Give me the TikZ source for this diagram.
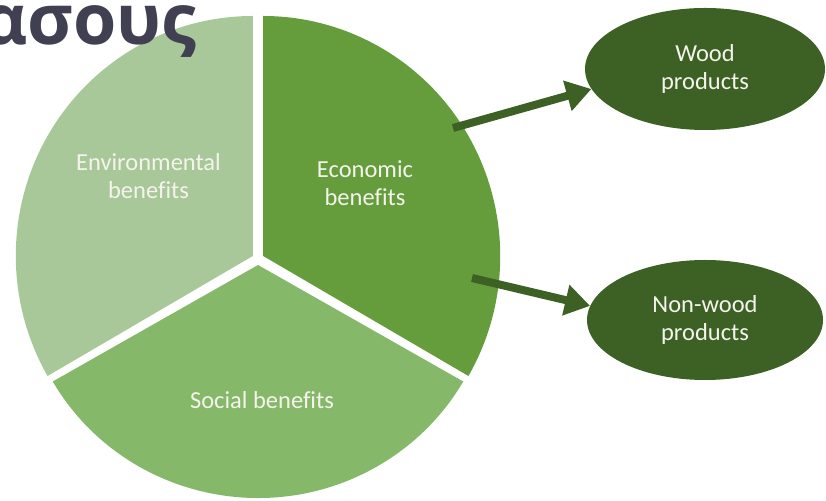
\documentclass[tikz,border=0pt]{standalone}
\usepackage{fontspec}
\setmainfont{Carlito}[Ligatures=CommonOff]
\newfontfamily\titlefont{Open Sans}
\usetikzlibrary{arrows.meta,shapes.geometric}
\definecolor{envgreen}{RGB}{169,200,153}
\definecolor{ecogreen}{RGB}{101,157,60}
\definecolor{socgreen}{RGB}{134,184,106}
\definecolor{darkgreen}{RGB}{61,96,37}
\definecolor{titlegray}{RGB}{64,64,82}
\definecolor{lblwhite}{RGB}{244,244,236}
\tikzset{
  lbl/.style={text=lblwhite, font=\fontsize{24.5}{28}\selectfont, align=center, inner sep=0pt},
  product/.style={ellipse, fill=darkgreen, minimum width=240pt, minimum height=122pt, inner sep=0pt, lbl},
  bigarrow/.style={darkgreen, line width=8pt, -{Triangle[length=25pt,width=30pt]}},
}
\begin{document}
\begin{tikzpicture}[x=1pt,y=1pt]
                \useasboundingbox (0,0) rectangle (826,500);
                \clip (0,0) rectangle (826,500);
                \fill[envgreen] (252.8,244) -- ++(90:237 and 240) arc[start angle=90, end angle=210, x radius=237, y radius=240] -- cycle;
                \fill[ecogreen] (263.2,244) -- ++(-30:237 and 240) arc[start angle=-30, end angle=90, x radius=237, y radius=240] -- cycle;
                \fill[socgreen] (258,235) -- ++(210:237 and 233) arc[start angle=210, end angle=330, x radius=237, y radius=233] -- cycle;
                \node[lbl] (env) at (148.5,324) {Environmental\\benefits};
                \node[lbl] (eco) at (365,317) {Economic\\benefits};
                \node[lbl] (soc) at (262,100) {Social benefits};
                \node[product] (wood) at (705,431) {Wood\\products};
                \node[product, minimum width=236pt, minimum height=120pt] (nonwood) at (705,180) {Non-wood\\products};
                \coordinate (t1) at (453,372);
                \coordinate (t2) at (472,222);
                \draw[bigarrow] (t1) -- (wood.190);
                \draw[bigarrow] (t2) -- (nonwood.173);
                \node[anchor=base east, inner sep=0pt, text=titlegray, font=\titlefont\bfseries\fontsize{70}{70}\selectfont] (title) at (197,455) {ασους};
\end{tikzpicture}
\end{document}
